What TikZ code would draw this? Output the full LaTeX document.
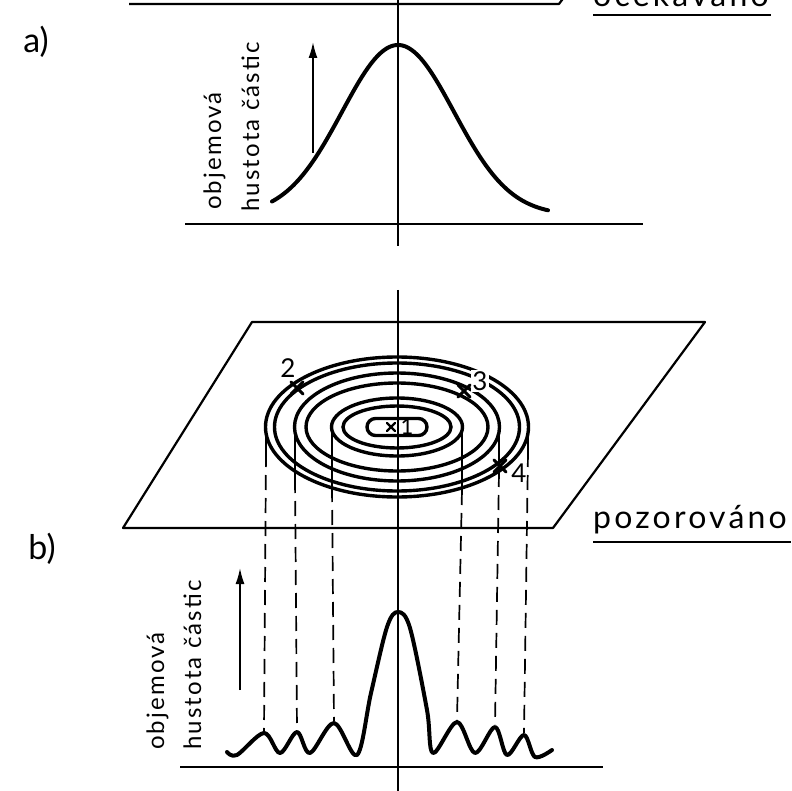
\documentclass[tikz,border=0pt]{standalone}
\usepackage{fontspec}
\setmainfont{Lato}
\newfontfamily\wordfont[LetterSpace=10]{Lato}
\newfontfamily\axisfont[LetterSpace=9]{Lato}
\usetikzlibrary{arrows.meta}

\tikzset{
  axisline/.style={line width=1.8pt},
  groundline/.style={line width=2pt},
  planeedge/.style={line width=2.2pt, line join=round},
  ring/.style={line width=3.4pt},
  curveline/.style={line width=4pt, line cap=round, line join=round},
  dropline/.style={line width=1.7pt, dash pattern=on 15pt off 8pt},
  solidpart/.style={line width=1.7pt},
  crossmark/.style={line width=3pt, line cap=round},
  uparrow/.style={line width=1.8pt, -{Latex[length=16pt, width=9pt]}},
  partlabel/.style={font=\fontsize{34}{38}\selectfont, inner sep=0pt},
  caption/.style={font=\wordfont\fontsize{32}{36}\selectfont, inner sep=0pt, anchor=base west},
  ylabel/.style={font=\axisfont\fontsize{24}{28}\selectfont, inner sep=0pt, rotate=90, anchor=base west},
  ringnum/.style={font=\fontsize{26}{30}\selectfont, inner sep=1pt},
}

\begin{document}
\begin{tikzpicture}[x=1pt, y=-1pt]
\useasboundingbox (0,0) rectangle (792,791);
\clip (0,0) rectangle (792,791);

% a) expected
\draw[planeedge] (129,4) -- (559,4) -- (711,-202);
\node[caption] (expected) at (593,7) {očekáváno};
\draw[line width=2.4pt] (593,15) -- (771,15);
\node[partlabel] (parta) at (36,42) {a)};

\draw[axisline] (398,0) -- (398,246);
\draw[groundline] (185,224) -- (643,224);
\draw[curveline] plot[domain=272:548, samples=90] (\x, {215-170*exp(-0.5*((\x-398)/56)^2)});

\node[ylabel] (objA) at (221,210) {objemová};
\node[ylabel] (husA) at (259,212) {hustota částic};
\coordinate (arrA0) at (313,153);
\coordinate (arrA1) at (313,42);
\draw[uparrow] (arrA0) -- (arrA1);

% b) observed
\draw[planeedge] (123,528) -- (553,528) -- (705,322) -- (252,322) -- cycle;
\node[caption] (observed) at (593,528) {pozorováno};
\draw[line width=2.4pt] (593,542) -- (791,542);
\node[partlabel] (partb) at (42,549) {b)};

\coordinate (ctr) at (397,427);
\draw[ring, rounded corners=8.5pt] (367,418.5) rectangle (427,435.5);
\foreach \rx/\ry in {54/21, 65.5/29, 91/44, 102.5/54, 122.5/64, 131.5/70}
  \draw[ring] (ctr) ellipse [x radius=\rx pt, y radius=\ry pt];

% drop lines from the rings to the peaks
\foreach \a/\b/\c/\d in {266/452/264/731, 295/478/297/730, 332/487/334/721,
                         462/490/457/720, 499/472/495/725, 528/452/524/733}{
  \draw[solidpart] (\a,427) -- (\a,\b);
  \draw[dropline] (\a,\b) -- (\c,\d);
}

\draw[axisline] (398,290) -- (398,791);
\draw[groundline] (180,767) -- (603,767);
\draw[curveline] plot[smooth, tension=0.55] coordinates {
  (227,752) (237,755) (264,733) (280,753) (297,732) (310,753) (334,723)
  (357,755) (371,693) (387,627) (398,612) (410,628) (427,710) (433,753)
  (457,722) (475,753) (495,727) (507,755) (524,735) (535,757) (552,750)};

% marked points
\node[ringnum, fill=white] (n3) at (480,381) {3};
\node[ringnum] (n2) at (288,368) {2};
\node[ringnum] (n4) at (519,473) {4};
\node[font=\fontsize{22}{24}\selectfont, inner sep=0pt] (n1) at (407,427) {1};
\coordinate (m1) at (391,427);
\coordinate (m2) at (297,388);
\coordinate (m3) at (464,391);
\coordinate (m4) at (500,466);
\draw[crossmark, line width=2.4pt] (m1) +(-4,-4) -- +(4,4) (m1) +(-4,4) -- +(4,-4);
\foreach \m in {m2,m3,m4}
  \draw[crossmark] (\m) +(-6,-6) -- +(6,6) (\m) +(-6,6) -- +(6,-6);

\node[ylabel] (objB) at (164,750) {objemová};
\node[ylabel] (husB) at (201,750) {hustota částic};
\coordinate (arrB0) at (240,690);
\coordinate (arrB1) at (240,568);
\draw[uparrow] (arrB0) -- (arrB1);
\end{tikzpicture}
\end{document}
